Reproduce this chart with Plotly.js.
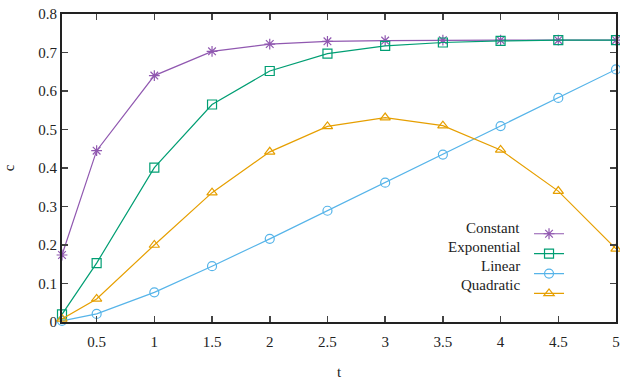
<!DOCTYPE html>
<html><head><meta charset="utf-8">
<script src="https://cdn.plot.ly/plotly-3.0.1.min.js"></script>
<style>html,body{margin:0;padding:0;background:#fff;}#chart{width:620px;height:380px;}</style>
</head><body><div id="chart"></div>
<script>
const t = [0.2, 0.5, 1, 1.5, 2, 2.5, 3, 3.5, 4, 4.5, 5];
const constant = [0.174, 0.445, 0.640, 0.703, 0.722, 0.729, 0.731, 0.732, 0.732, 0.732, 0.732];
const exponential = [0.020, 0.153, 0.401, 0.565, 0.652, 0.697, 0.717, 0.726, 0.730, 0.732, 0.732];
const linear = [0.003, 0.021, 0.077, 0.145, 0.216, 0.289, 0.362, 0.435, 0.509, 0.582, 0.656];
const quadratic = [0.008, 0.060, 0.200, 0.336, 0.442, 0.508, 0.531, 0.510, 0.447, 0.340, 0.190];
const names = ["Constant", "Exponential", "Linear", "Quadratic"];
const series = [constant, exponential, linear, quadratic];
const colors = ["#9058b0", "#009e73", "#56b4e9", "#e69f00"];
const symbols = ["asterisk-open", "square-open", "circle-open", "triangle-up-open"];
const xTicks = [0.5, 1, 1.5, 2, 2.5, 3, 3.5, 4, 4.5, 5];
const yTicks = [0, 0.1, 0.2, 0.3, 0.4, 0.5, 0.6, 0.7, 0.8];

function mkFont(sz) { return {family: "Liberation Serif", size: sz || 15, color: "#222222"}; }

const traces = series.map((s, i) => ({
  x: t, y: s, name: " ", type: "scatter", mode: "lines+markers",
  line: {color: colors[i], width: 1.2},
  marker: {symbol: symbols[i], size: 9, color: colors[i], line: {color: colors[i], width: 1.2}},
  cliponaxis: false
}));

// legend labels: right-aligned text to the left of the legend samples (gnuplot style)
const legX = 0.831, legY0 = 0.305, legStep = 0.0615;
const annotations = names.map((n, i) => ({
  text: n, xref: "paper", yref: "paper", x: legX, y: legY0 - i * legStep,
  xanchor: "right", yanchor: "middle", showarrow: false, font: mkFont(15)
}));

function axisBase() {
  return {
    showgrid: false, zeroline: false, showline: true, linecolor: "#222222", linewidth: 2,
    mirror: "allticks", ticks: "inside", ticklen: 6, tickcolor: "#444444", tickwidth: 1.5,
    tickfont: mkFont(15)
  };
}

const xaxis = axisBase();
xaxis.range = [0.2, 5];
xaxis.tickvals = xTicks;
xaxis.ticktext = xTicks.map(String);
xaxis.ticklabelstandoff = 5;
xaxis.title = {text: "t", font: mkFont(15), standoff: 20};

const yaxis = axisBase();
yaxis.range = [0, 0.8];
yaxis.tickvals = yTicks;
yaxis.ticktext = yTicks.map(String);
yaxis.title = {text: "c", font: mkFont(15), standoff: 20};

const layout = {
  width: 620, height: 380,
  margin: {l: 62, r: 4, t: 14, b: 58},
  paper_bgcolor: "#ffffff", plot_bgcolor: "#ffffff",
  font: mkFont(15),
  showlegend: true,
  legend: {x: 0.843, y: 0.335, xanchor: "left", yanchor: "top", bgcolor: "rgba(0,0,0,0)",
           font: mkFont(13), tracegroupgap: 0, itemwidth: 30},
  xaxis: xaxis,
  yaxis: yaxis,
  annotations: annotations
};
Plotly.newPlot("chart", traces, layout, {displayModeBar: false, staticPlot: true});
</script></body></html>
